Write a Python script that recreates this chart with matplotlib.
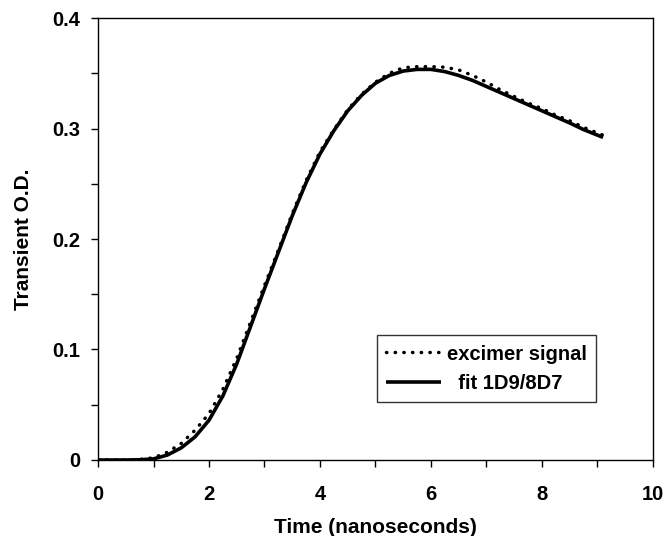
import matplotlib
matplotlib.use("Agg")
import matplotlib.pyplot as plt
from matplotlib.ticker import MultipleLocator

plt.rcParams['font.family'] = ['Liberation Sans', 'DejaVu Sans']

# Time axis (ns)
time_ns = [0.0, 0.25, 0.5, 0.75, 1.0, 1.25, 1.5, 1.75, 2.0, 2.25, 2.5, 2.75,
           3.0, 3.25, 3.5, 3.75, 4.0, 4.25, 4.5, 4.75, 5.0, 5.25, 5.5, 5.75,
           6.0, 6.25, 6.5, 6.75, 7.0, 7.25, 7.5, 7.75, 8.0, 8.25, 8.5, 8.75,
           9.0, 9.1]

# Measured excimer signal (dotted)
excimer_signal = [0.0, 0.0, 0.0, 0.0005, 0.002, 0.007, 0.015, 0.027, 0.042,
                  0.064, 0.092, 0.125, 0.158, 0.190, 0.223, 0.253, 0.279,
                  0.299, 0.317, 0.331, 0.342, 0.350, 0.355, 0.356, 0.356,
                  0.3555, 0.353, 0.348, 0.342, 0.335, 0.329, 0.323, 0.318,
                  0.312, 0.307, 0.301, 0.296, 0.294]

# Fit 1D9/8D7 (solid)
fit_values = [0.0, 0.0, 0.0, 0.0002, 0.001, 0.0045, 0.011, 0.021, 0.036,
              0.058, 0.087, 0.121, 0.155, 0.188, 0.221, 0.251, 0.277,
              0.298, 0.316, 0.330, 0.341, 0.348, 0.352, 0.3535, 0.3535,
              0.3515, 0.348, 0.3435, 0.338, 0.3325, 0.327, 0.3215, 0.316,
              0.3105, 0.305, 0.299, 0.294, 0.292]

x_ticks = [0, 2, 4, 6, 8, 10]
y_ticks = [0, 0.1, 0.2, 0.3, 0.4]
y_tick_labels = ['0', '0.1', '0.2', '0.3', '0.4']

fig = plt.figure(figsize=(6.64, 5.36), dpi=100)
ax = fig.add_axes([0.1476, 0.1418, 0.8358, 0.8246])

ax.plot(time_ns, excimer_signal, color='black', linewidth=2.5,
        linestyle=(0, (0.1, 2.4)), dash_capstyle='round',
        label='excimer signal')
ax.plot(time_ns, fit_values, color='black', linewidth=2.6,
        solid_capstyle='butt', solid_joinstyle='round', label='  fit 1D9/8D7')

ax.set_xlim(0, 10)
ax.set_ylim(0, 0.4)
ax.set_xticks(x_ticks)
ax.set_xticklabels([str(v) for v in x_ticks])
ax.set_yticks(y_ticks)
ax.set_yticklabels(y_tick_labels)
ax.xaxis.set_minor_locator(MultipleLocator(1))
ax.yaxis.set_minor_locator(MultipleLocator(0.05))

ax.tick_params(which='both', direction='out', length=5, width=1,
               top=False, right=False, labelsize=14.5)
ax.tick_params(axis='x', pad=13)
ax.tick_params(axis='y', pad=8)
for lab in ax.get_xticklabels() + ax.get_yticklabels():
    lab.set_fontweight('bold')
for sp in ax.spines.values():
    sp.set_linewidth(1.0)

ax.set_xlabel('Time (nanoseconds)', fontsize=15, fontweight='bold', labelpad=10)
ax.set_ylabel('Transient O.D.', fontsize=15, fontweight='bold', labelpad=14)

leg = ax.legend(loc='lower left', bbox_to_anchor=(0.503, 0.132),
                borderaxespad=0, fancybox=False, frameon=True,
                edgecolor='black', handlelength=2.7, handletextpad=0.3,
                borderpad=0.45, labelspacing=0.5,
                prop={'size': 14.5, 'weight': 'bold'})
leg.get_frame().set_linewidth(1.0)

fig.savefig('out.png', dpi=100)
